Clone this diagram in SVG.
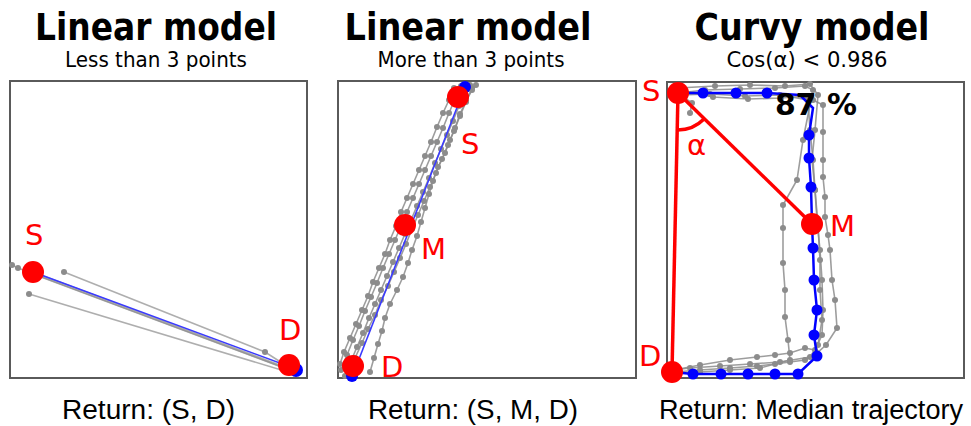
<svg xmlns="http://www.w3.org/2000/svg" width="971" height="426" viewBox="0 0 971 426">
<style>
.title{font-family:"DejaVu Sans","Liberation Sans",sans-serif;font-weight:bold;font-size:37px;fill:#000;text-anchor:middle}
.sub{font-family:"DejaVu Sans","Liberation Sans",sans-serif;font-size:22px;fill:#000;text-anchor:middle}
.ret{font-family:"Liberation Sans","DejaVu Sans",sans-serif;font-size:27px;fill:#000}
.lbl{font-family:"DejaVu Sans","Liberation Sans",sans-serif;font-size:29px;fill:#ff0000}
.frame{fill:#fff;stroke:#5a5a5a;stroke-width:2}
.traj{fill:none;stroke:#8c8c8c;stroke-width:1.6;stroke-opacity:0.85;marker-start:url(#gdot);marker-mid:url(#gdot);marker-end:url(#gdot)}
.trajn{fill:none;stroke:#8c8c8c;stroke-width:1.6;stroke-opacity:0.7}
.gd{fill:#8c8c8c}
.med{fill:none;stroke:#0000ff;stroke-width:2.5}
.bd{fill:#0000ff}
.bl{fill:none;stroke:#3a3aff;stroke-width:1.6}
.red{fill:#ff0000}
.redl{fill:none;stroke:#ff0000;stroke-width:3.5}
</style>
<defs>
<marker id="gdot" markerUnits="userSpaceOnUse" markerWidth="8" markerHeight="8" refX="4" refY="4"><circle cx="4" cy="4" r="3" fill="#8c8c8c"/></marker>
</defs>

<g id="titles">
<text class="title" x="156" y="40" textLength="242" lengthAdjust="spacingAndGlyphs">Linear model</text>
<text class="sub" x="156" y="67" textLength="182" lengthAdjust="spacingAndGlyphs">Less than 3 points</text>
<text class="title" x="468" y="40" textLength="247" lengthAdjust="spacingAndGlyphs">Linear model</text>
<text class="sub" x="471" y="67" textLength="187" lengthAdjust="spacingAndGlyphs">More than 3 points</text>
<text class="title" x="812" y="40" textLength="235" lengthAdjust="spacingAndGlyphs">Curvy model</text>
<text class="sub" x="807" y="67" textLength="161" lengthAdjust="spacingAndGlyphs">Cos(α) &lt; 0.986</text>
</g>

<g id="panel1">
<rect class="frame" x="10" y="81" width="297" height="297"/>
<g id="p1-trajectories">
<polyline class="trajn" points="12,265 18,268 290,370"/>
<polyline class="trajn" points="33,272 290,369"/>
<polyline class="trajn" points="33,274 292,371"/>
<polyline class="trajn" points="64,272 265,352 290,368"/>
<polyline class="trajn" points="29,294 288,372"/>
<circle class="gd" cx="12" cy="265" r="3"/>
<circle class="gd" cx="18" cy="268" r="3"/>
<circle class="gd" cx="64" cy="272" r="3"/>
<circle class="gd" cx="265" cy="352" r="3"/>
<circle class="gd" cx="29" cy="294" r="3"/>
<line class="bl" x1="33" y1="272" x2="296" y2="369"/>
<circle cx="296" cy="370" r="7" fill="#0000ff"/>
</g>
<g id="p1-S"><circle class="red" cx="33" cy="272" r="11"/><text class="lbl" x="25" y="245">S</text></g>
<g id="p1-D"><circle class="red" cx="289" cy="365" r="11"/><text class="lbl" x="279" y="340">D</text></g>
<text class="ret" x="62" y="419" textLength="173" lengthAdjust="spacingAndGlyphs">Return: (S, D)</text>
</g>

<g id="panel2">
<rect class="frame" x="338" y="81" width="298" height="297"/>
<g id="p2-trajectories">
<polyline class="traj" points="341,370 347,355 353,340 359,326 365,311 371,297 377,283 383,268 389,254 395,240 401,226 407,212 413,198 419,184 425,170 431,156 437,142 443,128 449,113 455,99 461,86"/>
<polyline class="traj" points="345,376 351,361 357,347 363,333 369,318 375,304 381,290 387,276 393,262 399,248 405,234 411,220 417,206 423,192 429,178 435,163 441,149 447,135 453,121 459,106 465,92 470,85"/>
<polyline class="traj" points="349,372 355,358 362,343 368,329 375,315 381,300 388,286 394,272 400,258 406,244 412,229 418,215 424,201 430,187 436,173 442,159 448,145 454,131 460,116 466,102 472,88"/>
<polyline class="traj" points="370,372 374,358 378,344 382,331 385,318 390,304 397,290 403,277 408,263 412,250 417,236 421,222 425,208 429,194 433,181 438,167 445,153 450,140 455,128 460,114 466,101 472,90 476,85"/>
<polyline class="traj" points="340,364 344,352 350,338 356,324 362,310 368,296 373,282 379,268 385,254 390,240 396,226 401,212 407,198 413,184 419,170 425,156 431,142 437,127 443,113 449,100 454,88"/>
<line class="bl" x1="352" y1="377" x2="465" y2="87"/>
<circle cx="465" cy="87" r="6" fill="#0000ff"/>
<circle cx="352" cy="376" r="6" fill="#0000ff"/>
</g>
<g id="p2-S"><circle class="red" cx="458" cy="97" r="11"/><text class="lbl" x="461" y="154">S</text></g>
<g id="p2-M"><circle class="red" cx="405" cy="225" r="11"/><text class="lbl" x="421" y="259">M</text></g>
<g id="p2-D"><circle class="red" cx="353" cy="366" r="11"/><text class="lbl" x="381" y="377">D</text></g>
<text class="ret" x="368" y="419" textLength="210" lengthAdjust="spacingAndGlyphs">Return: (S, M, D)</text>
</g>

<g id="panel3">
<rect class="frame" x="667" y="82" width="297" height="296"/>
<g id="p3-trajectories">
<polyline class="traj" points="678,90 713,97 748,99 781,98 806,96 813,100 823,105 823,132 823,160 823,177 825,197 825,217 828,235 830,250 832,280 835,300 837,328 826,345 817,353 805,360 790,362 775,364 757,366 730,368 700,370 675,372"/>
<polyline class="traj" points="678,93 705,90 740,89 775,88 805,86 813,90 803,140 797,180 783,205 783,228 783,263 785,290 785,317 788,340 790,360 760,368 730,370 700,372 675,374"/>
<polyline class="traj" points="678,88 715,86 750,85 785,86 810,84 818,95 815,130 812,160 815,190 817,220 820,250 822,280 823,310 822,335 815,350 805,348 790,353 775,355 757,357 730,360 700,365 674,370"/>
<polyline class="traj" points="680,95 710,94 745,96 780,95 808,100 810,130 813,160 815,190 818,225 820,260 820,290 822,320 818,345 810,357 780,362 750,364 720,366 690,368 672,370"/>
<polyline class="traj" points="678,93 692,103 690,113"/>
<polyline class="med" points="678,93 703,93 736,93 767,93 800,95 813,108 809,135 809,158 811,187 812,224 813,248 814,280 817,310 814,335 817,356 798,374 775,374 748,374 721,374 693,374 672,372"/>
<circle class="bd" cx="703" cy="93" r="5.5"/>
<circle class="bd" cx="736" cy="93" r="5.5"/>
<circle class="bd" cx="767" cy="93" r="5.5"/>
<circle class="bd" cx="809" cy="135" r="5.5"/>
<circle class="bd" cx="809" cy="158" r="5.5"/>
<circle class="bd" cx="811" cy="187" r="5.5"/>
<circle class="bd" cx="813" cy="248" r="5.5"/>
<circle class="bd" cx="814" cy="280" r="5.5"/>
<circle class="bd" cx="817" cy="310" r="5.5"/>
<circle class="bd" cx="814" cy="335" r="5.5"/>
<circle class="bd" cx="817" cy="356" r="5.5"/>
<circle class="bd" cx="798" cy="374" r="5.5"/>
<circle class="bd" cx="775" cy="374" r="5.5"/>
<circle class="bd" cx="748" cy="374" r="5.5"/>
<circle class="bd" cx="721" cy="374" r="5.5"/>
<circle class="bd" cx="693" cy="374" r="5.5"/>
</g>
<g id="connectors">
<line class="redl" x1="678" y1="93" x2="672" y2="372"/>
<line class="redl" x1="678" y1="93" x2="812" y2="224"/>
<path class="redl" d="M677,130 A37,37 0 0 0 704,119" stroke-width="3"/>
</g>
<g id="p3-S"><circle class="red" cx="678" cy="93" r="11"/><text class="lbl" x="642" y="101">S</text></g>
<g id="p3-M"><circle class="red" cx="812" cy="224" r="11"/><text class="lbl" x="830" y="236">M</text></g>
<g id="p3-D"><circle class="red" cx="672" cy="372" r="11"/><text class="lbl" x="639" y="366">D</text></g>
<text class="lbl" x="687" y="155" font-size="26">α</text>
<text x="775" y="115" font-family="DejaVu Sans, Liberation Sans, sans-serif" font-weight="bold" font-size="31" fill="#000" textLength="82" lengthAdjust="spacingAndGlyphs">87 %</text>
<text class="ret" x="659" y="419" textLength="304" lengthAdjust="spacingAndGlyphs">Return: Median trajectory</text>
</g>
</svg>
